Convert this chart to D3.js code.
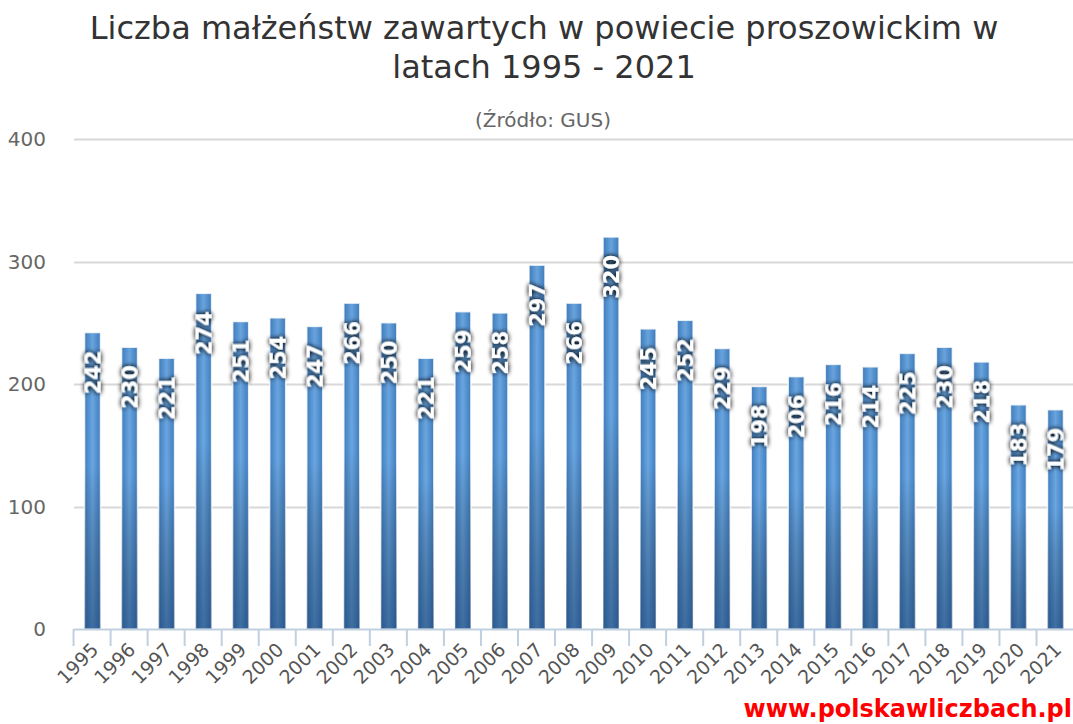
<!DOCTYPE html>
<html>
<head>
<meta charset="utf-8">
<script src="https://cdn.jsdelivr.net/npm/d3@7"></script>
<style>
  html, body { margin: 0; padding: 0; background: #fff; }
  svg { display: block; font-family: "DejaVu Sans", Verdana, sans-serif; }
</style>
</head>
<body>
<div id="vis"></div>
<script>
// data
const years = ["1995","1996","1997","1998","1999","2000","2001","2002","2003","2004","2005","2006","2007","2008",
  "2009","2010","2011","2012","2013","2014","2015","2016","2017","2018","2019","2020","2021"];
const marriages = [242,230,221,274,251,254,247,266,250,221,259,258,297,266,320,245,252,229,198,206,216,214,225,230,218,183,179];
const yTicks = [0,100,200,300,400];

const width = 1073, height = 724;
const margin = {top: 139, right: -1, bottom: 95, left: 74};

const svg = d3.select("#vis").append("svg")
  .attr("width", width)
  .attr("height", height);

// gradients for bars
const defs = svg.append("defs");
const hGrad = defs.append("linearGradient").attr("id","barH")
  .attr("x1","0").attr("x2","1").attr("y1","0").attr("y2","0");
hGrad.append("stop").attr("offset","0%").attr("stop-color","#3f7dbf");
hGrad.append("stop").attr("offset","50%").attr("stop-color","#6aa6e0");
hGrad.append("stop").attr("offset","100%").attr("stop-color","#3f7dbf");

const vGrad = defs.append("linearGradient").attr("id","barV")
  .attr("x1","0").attr("x2","0").attr("y1","0").attr("y2","1");
vGrad.append("stop").attr("offset","0%").attr("stop-color","#000").attr("stop-opacity",0.02);
vGrad.append("stop").attr("offset","45%").attr("stop-color","#000").attr("stop-opacity",0.0);
vGrad.append("stop").attr("offset","100%").attr("stop-color","#0a2a55").attr("stop-opacity",0.45);

const shadow = defs.append("filter").attr("id","lblShadow")
  .attr("x","-50%").attr("y","-50%").attr("width","200%").attr("height","200%");
shadow.append("feGaussianBlur").attr("in","SourceAlpha").attr("stdDeviation",2.4).attr("result","b");
shadow.append("feFlood").attr("flood-color","#000").attr("flood-opacity",0.8);
shadow.append("feComposite").attr("in2","b").attr("operator","in").attr("result","s");
const fm = shadow.append("feMerge");
fm.append("feMergeNode").attr("in","s");
fm.append("feMergeNode").attr("in","s");
fm.append("feMergeNode").attr("in","SourceGraphic");

const x = d3.scaleBand()
  .domain(years)
  .range([margin.left, width - margin.right])
  .paddingInner(0.57)
  .paddingOuter(0.285);

const y = d3.scaleLinear()
  .domain([0, 400])
  .range([height - margin.bottom, margin.top]);

// titles
const title = svg.append("text")
  .attr("text-anchor","middle")
  .attr("fill","#333")
  .style("font-size","32px");
title.append("tspan").attr("x",544).attr("y",39).text("Liczba małżeństw zawartych w powiecie proszowickim w");
title.append("tspan").attr("x",544).attr("y",78).text("latach 1995 - 2021");

svg.append("text")
  .attr("x",543).attr("y",127)
  .attr("text-anchor","middle")
  .attr("fill","#666")
  .style("font-size","20px")
  .text("(Źródło: GUS)");

// grid
svg.append("g")
  .selectAll("line")
  .data(yTicks.slice(1))
  .join("line")
  .attr("x1", margin.left).attr("x2", width)
  .attr("y1", d => Math.round(y(d)) + 0.5).attr("y2", d => Math.round(y(d)) + 0.5)
  .attr("stroke","#d8d8d8").attr("stroke-width",2);

// y labels
svg.append("g")
  .selectAll("text")
  .data(yTicks)
  .join("text")
  .attr("x", 46)
  .attr("y", d => y(d) + 7)
  .attr("text-anchor","end")
  .attr("fill","#666")
  .style("font-size","20px")
  .text(d => d);

// bars
const bars = svg.append("g")
  .selectAll("g")
  .data(years)
  .join("g");

bars.append("rect")
  .attr("x", d => x(d))
  .attr("y", (d,i) => y(marriages[i]))
  .attr("width", x.bandwidth())
  .attr("height", (d,i) => y(0) - y(marriages[i]))
  .attr("fill","url(#barH)")
  .attr("stroke","#fff").attr("stroke-width",1.5).attr("stroke-opacity",0.8);

bars.append("rect")
  .attr("x", d => x(d))
  .attr("y", (d,i) => y(marriages[i]))
  .attr("width", x.bandwidth())
  .attr("height", (d,i) => y(0) - y(marriages[i]))
  .attr("fill","url(#barV)");

// x axis
const axisG = svg.append("g");
axisG.append("line")
  .attr("x1", margin.left).attr("x2", width)
  .attr("y1", y(0) + 0.5).attr("y2", y(0) + 0.5)
  .attr("stroke","#c0d0e0").attr("stroke-width",2);
axisG.selectAll("line.tick")
  .data(years)
  .join("line")
  .attr("class","tick")
  .attr("x1", d => x(d) - x.bandwidth() * 0.66 - 0.5)
  .attr("x2", d => x(d) - x.bandwidth() * 0.66 - 0.5)
  .attr("y1", y(0)).attr("y2", y(0) + 17)
  .attr("stroke","#c0d0e0").attr("stroke-width",2);

axisG.selectAll("text")
  .data(years)
  .join("text")
  .attr("transform", d => `translate(${x(d) + x.bandwidth()/2 + 7},${y(0) + 22}) rotate(-45)`)
  .attr("text-anchor","end")
  .attr("fill","#555")
  .style("font-size","19px")
  .text(d => d);

// value labels
bars.append("text")
  .attr("transform", (d,i) => `translate(${x(d) + x.bandwidth()/2},${y(marriages[i]) + 18}) rotate(-90)`)
  .attr("dy","0.36em")
  .attr("text-anchor","end")
  .attr("fill","#fff")
  .attr("filter","url(#lblShadow)")
  .style("font-size","21px")
  .style("font-weight","bold")
  .text((d,i) => marriages[i]);

// watermark
svg.append("text")
  .attr("x", 1072).attr("y", 717)
  .attr("text-anchor","end")
  .attr("fill","#ff0000")
  .style("font-size","24px")
  .style("font-weight","bold")
  .text("www.polskawliczbach.pl");
</script>
</body>
</html>
